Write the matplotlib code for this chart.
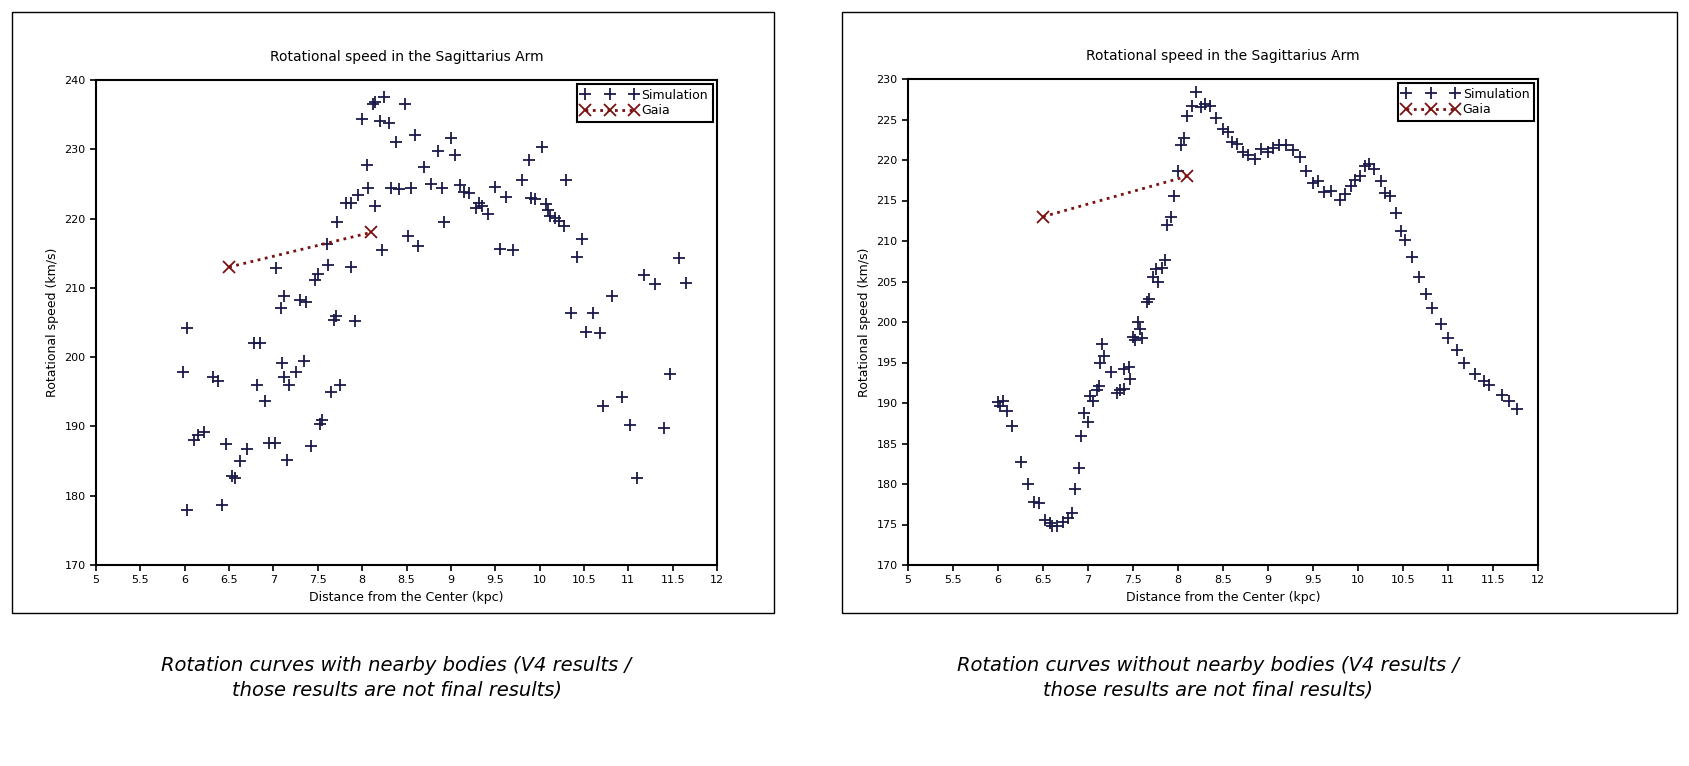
import matplotlib.pyplot as plt
from matplotlib.patches import Rectangle

# left chart: with nearby bodies
sim_near_x = [5.98, 6.03, 6.03, 6.1, 6.15, 6.22, 6.32, 6.38, 6.42, 6.47, 6.53, 6.57, 6.62, 6.7,
              6.78, 6.85, 6.82, 6.9, 6.95, 7.02, 7.03, 7.08, 7.12, 7.1, 7.12, 7.15, 7.18, 7.25,
              7.3, 7.35, 7.37, 7.42, 7.47, 7.5, 7.52, 7.55, 7.6, 7.62, 7.65, 7.68, 7.7, 7.72,
              7.75, 7.82, 7.88, 7.88, 7.92, 7.95, 8.0, 8.05, 8.07, 8.12, 8.15, 8.15, 8.2, 8.22,
              8.25, 8.3, 8.32, 8.38, 8.42, 8.48, 8.52, 8.55, 8.6, 8.63, 8.7, 8.78, 8.85, 8.9,
              8.92, 9.0, 9.05, 9.1, 9.15, 9.2, 9.28, 9.32, 9.35, 9.42, 9.5, 9.55, 9.62, 9.7,
              9.8, 9.88, 9.9, 9.95, 10.03, 10.07, 10.1, 10.12, 10.17, 10.22, 10.28, 10.3, 10.35,
              10.42, 10.48, 10.52, 10.6, 10.68, 10.72, 10.82, 10.93, 11.02, 11.1, 11.18, 11.3,
              11.4, 11.47, 11.57, 11.65]
sim_near_v = [197.8, 204.2, 177.9, 188, 188.8, 189.2, 197.2, 196.6, 178.7, 187.5, 182.8, 182.6, 185, 186.8,
              202.1, 202.1, 196, 193.6, 187.6, 187.6, 212.8, 207.1, 208.8, 199.2, 197.2, 185.2, 196, 197.8,
              208.2, 199.4, 208.0, 187.2, 211.2, 212, 190.4, 190.9, 216.4, 213.3, 195, 205.4, 205.9, 219.5,
              196, 222.2, 222.3, 213, 205.2, 223.4, 234.3, 227.8, 224.4, 236.5, 236.8, 221.8, 234.1, 215.5,
              237.5, 233.8, 224.4, 231, 224.2, 236.5, 217.5, 224.4, 232, 216, 227.5, 225, 229.8, 224.4,
              219.5, 231.7, 229.2, 224.9, 223.8, 223.7, 221.5, 222.2, 221.8, 220.7, 224.5, 215.6, 223.1, 215.5,
              225.6, 228.4, 223, 222.8, 230.3, 222.1, 221.2, 220.4, 220.1, 219.6, 218.9, 225.6, 206.3,
              214.4, 217.1, 203.6, 206.3, 203.5, 193, 208.8, 194.2, 190.2, 182.6, 211.8, 210.6,
              189.8, 197.6, 214.3, 210.7]

# right chart: without nearby bodies
sim_far_x = [6.0, 6.02, 6.05, 6.1, 6.15, 6.25, 6.33, 6.4, 6.45, 6.52, 6.58, 6.6, 6.65, 6.72, 6.78,
             6.82, 6.85, 6.9, 6.92, 6.95, 7.0, 7.02, 7.05, 7.1, 7.12, 7.13, 7.15, 7.18, 7.25, 7.32,
             7.35, 7.4, 7.4, 7.45, 7.47, 7.5, 7.52, 7.55, 7.58, 7.6, 7.65, 7.68, 7.72, 7.75, 7.78,
             7.82, 7.85, 7.88, 7.92, 7.95, 8.0, 8.03, 8.07, 8.1, 8.15, 8.2, 8.25, 8.3, 8.35, 8.42,
             8.5, 8.55, 8.6, 8.65, 8.72, 8.78, 8.85, 8.92, 9.0, 9.05, 9.12, 9.2, 9.28, 9.35, 9.42,
             9.5, 9.55, 9.62, 9.7, 9.8, 9.85, 9.92, 9.97, 10.02, 10.08, 10.12, 10.18, 10.25, 10.3,
             10.35, 10.42, 10.48, 10.52, 10.6, 10.68, 10.75, 10.82, 10.92, 11.0, 11.1, 11.18, 11.3,
             11.4, 11.45, 11.6, 11.68, 11.77]
sim_far_v = [190.1, 189.6, 190.3, 189, 187.1, 182.7, 180, 177.8, 177.7, 175.5, 175.2, 174.8, 174.8, 175.3, 175.8,
             176.4, 179.4, 182, 185.9, 188.8, 187.6, 190.9, 190.2, 191.6, 192.1, 195, 197.3, 195.8, 193.8, 191.2,
             191.6, 191.7, 194.2, 194.5, 193, 198.2, 197.8, 200, 199.1, 198, 202.5, 202.8, 205.6, 206.5, 205,
             206.7, 207.7, 212, 213, 215.5, 218.7, 221.8, 222.7, 225.4, 226.7, 228.4, 226.6, 226.9, 226.7, 225.2,
             223.8, 223.4, 222.2, 222, 221, 220.6, 220.1, 221.4, 221, 221.5, 221.8, 221.8, 221.2, 220.4, 218.7,
             217.2, 217.4, 216, 216.2, 215.1, 215.8, 216.8, 217.5, 218, 219.3, 219.5, 218.9, 217.4, 215.9,
             215.5, 213.5, 211.2, 210.1, 208, 205.5, 203.5, 201.7, 199.8, 198, 196.5, 195, 193.6,
             192.7, 192.2, 191, 190.3, 189.3]

gaia_x = [6.5, 8.1]
gaia_v = [213, 218]

captions = ["Rotation curves with nearby bodies (V4 results /\nthose results are not final results)",
            "Rotation curves without nearby bodies (V4 results /\nthose results are not final results)"]

W, H = 1689, 766
fig = plt.figure(figsize=(W / 100, H / 100), dpi=100)

def fx(px):
    return px / W

def fy(py):
    return 1 - py / H

# outer frames
for x0, x1 in [(12, 774), (842, 1677)]:
    fig.patches.append(Rectangle((fx(x0), fy(613)), fx(x1 - x0), (613 - 12) / H,
                                 transform=fig.transFigure, fill=False, lw=1.0, ec="black"))

panels = [
    (96, 717, 80, 565, sim_near_x, sim_near_v, (170, 240), range(170, 241, 10)),
    (908, 1538, 79, 565, sim_far_x, sim_far_v, (170, 230), range(170, 231, 5)),
]

for i, (x0, x1, y0, y1, sx, sv, ylim, yt) in enumerate(panels):
    ax = fig.add_axes([fx(x0), fy(y1), fx(x1 - x0), (y1 - y0) / H])
    ax.plot(sx, sv, ls="none", marker="+", ms=8, mew=1.3, color="#1a1a4a", label="Simulation")
    ax.plot(gaia_x, gaia_v, ls=":", lw=2, marker="x", ms=9, mew=1.3, color="#7a1010", label="Gaia")
    ax.set_xlim(5, 12)
    ax.set_ylim(*ylim)
    ax.set_xticks([5 + 0.5 * k for k in range(15)])
    ax.set_xticklabels([f"{5 + 0.5 * k:g}" for k in range(15)])
    ax.set_yticks(list(yt))
    ax.tick_params(labelsize=8, direction="out", length=4, width=1.2)
    for s in ax.spines.values():
        s.set_linewidth(1.5)
    ax.set_title("Rotational speed in the Sagittarius Arm", fontsize=10, pad=14)
    ax.set_xlabel("Distance from the Center (kpc)", fontsize=9)
    ax.set_ylabel("Rotational speed (km/s)", fontsize=9)
    leg = ax.legend(loc="upper right", numpoints=3, fontsize=9, fancybox=False,
                    edgecolor="black", framealpha=1, handlelength=4.5,
                    borderaxespad=0.3, handletextpad=0.3, labelspacing=0.2)
    leg.get_frame().set_linewidth(1.5)
    cx = (x0 + x1) / 2 - 10 if i == 0 else (x0 + x1) / 2 - 15
    fig.text(fx(cx), fy(678), captions[i], ha="center", va="center",
             fontsize=14, style="italic", linespacing=1.4)

fig.savefig("out.png", dpi=100)
